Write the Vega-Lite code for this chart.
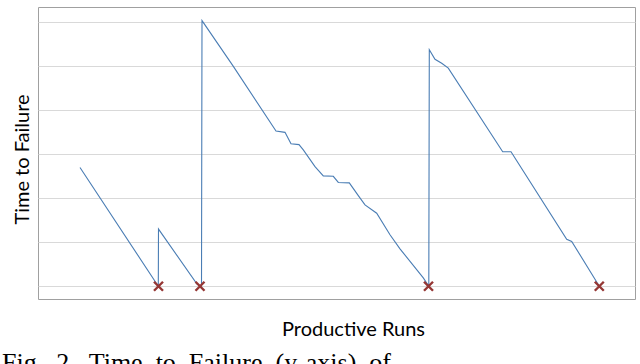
{
  "$schema": "https://vega.github.io/schema/vega-lite/v6.json",
  "width": 597,
  "height": 292,
  "autosize": {"type": "none"},
  "padding": {"left": 38, "top": 7, "right": 5, "bottom": 65},
  "background": "white",
  "config": {"view": {"stroke": "#a0a0a0", "strokeWidth": 1}},
  "title": {
    "text": "Fig.\u00a0\u00a02.\u00a0\u00a0Time\u00a0\u00a0to\u00a0\u00a0Failure\u00a0\u00a0(y-axis)\u00a0\u00a0of",
    "orient": "bottom",
    "anchor": "start",
    "frame": "group",
    "font": "Liberation Serif",
    "fontSize": 26,
    "fontWeight": "normal",
    "color": "#000000",
    "baseline": "top",
    "offset": 11,
    "dx": -36
  },
  "datasets": {
    "line": [
      {"i": 1, "run": 42, "ttf": 2.70},
      {"i": 2, "run": 120.3, "ttf": 0.0},
      {"i": 3, "run": 120.5, "ttf": 1.30},
      {"i": 4, "run": 159, "ttf": 0.05},
      {"i": 5, "run": 163.5, "ttf": 0.0},
      {"i": 6, "run": 164, "ttf": 6.04},
      {"i": 7, "run": 195, "ttf": 5.01},
      {"i": 8, "run": 238, "ttf": 3.53},
      {"i": 9, "run": 247, "ttf": 3.50},
      {"i": 10, "run": 253, "ttf": 3.24},
      {"i": 11, "run": 261, "ttf": 3.22},
      {"i": 12, "run": 265.3, "ttf": 3.10},
      {"i": 13, "run": 277, "ttf": 2.72},
      {"i": 14, "run": 285.3, "ttf": 2.51},
      {"i": 15, "run": 295.3, "ttf": 2.50},
      {"i": 16, "run": 300.3, "ttf": 2.36},
      {"i": 17, "run": 311.3, "ttf": 2.35},
      {"i": 18, "run": 320.3, "ttf": 2.06},
      {"i": 19, "run": 327, "ttf": 1.85},
      {"i": 20, "run": 338.7, "ttf": 1.66},
      {"i": 21, "run": 352, "ttf": 1.17},
      {"i": 22, "run": 362, "ttf": 0.85},
      {"i": 23, "run": 385.3, "ttf": 0.19},
      {"i": 24, "run": 390.8, "ttf": 0.0},
      {"i": 25, "run": 391.3, "ttf": 5.38},
      {"i": 26, "run": 397, "ttf": 5.16},
      {"i": 27, "run": 403.7, "ttf": 5.07},
      {"i": 28, "run": 410.3, "ttf": 4.96},
      {"i": 29, "run": 464.7, "ttf": 3.06},
      {"i": 30, "run": 473, "ttf": 3.06},
      {"i": 31, "run": 528.7, "ttf": 1.07},
      {"i": 32, "run": 533.7, "ttf": 1.02},
      {"i": 33, "run": 557, "ttf": 0.16},
      {"i": 34, "run": 561.3, "ttf": 0.0}
    ],
    "fail": [
      {"run": 120.5, "ttf": 0.0},
      {"run": 162, "ttf": 0.0},
      {"run": 390.5, "ttf": 0.0},
      {"run": 561.3, "ttf": 0.0}
    ]
  },
  "encoding": {
    "x": {
      "field": "run",
      "type": "quantitative",
      "scale": {"domain": [0, 597], "nice": false, "zero": false},
      "axis": {
        "title": "Productive Runs",
        "labels": false,
        "ticks": false,
        "domain": false,
        "grid": false,
        "titleFont": "Lato",
        "titleFontSize": 20,
        "titleFontWeight": "normal",
        "titleColor": "#000000",
        "titleX": 315,
        "titleY": 20,
        "titleAlign": "center",
        "titleBaseline": "top"
      }
    },
    "y": {
      "field": "ttf",
      "type": "quantitative",
      "scale": {"domain": [-0.29, 6.35], "nice": false, "zero": false},
      "axis": {
        "title": "Time to Failure",
        "values": [0, 1, 2, 3, 4, 5, 6],
        "labels": false,
        "ticks": false,
        "domain": false,
        "grid": true,
        "gridColor": "#d9d9d9",
        "gridWidth": 1,
        "titleFont": "Lato",
        "titleFontSize": 20,
        "titleFontWeight": "normal",
        "titleColor": "#000000",
        "titleX": -10,
        "titleY": 152,
        "titleAngle": 270,
        "titleAlign": "center",
        "titleBaseline": "alphabetic"
      }
    }
  },
  "layer": [
    {
      "data": {"name": "line"},
      "mark": {"type": "line", "color": "#4a7db4", "strokeWidth": 1.1},
      "encoding": {"order": {"field": "i", "type": "quantitative"}}
    },
    {
      "data": {"name": "fail"},
      "mark": {
        "type": "point",
        "shape": "M-1,-1L1,1M-1,1L1,-1",
        "filled": false,
        "color": "#953735",
        "strokeWidth": 2.4,
        "size": 81,
        "opacity": 1
      }
    }
  ]
}
